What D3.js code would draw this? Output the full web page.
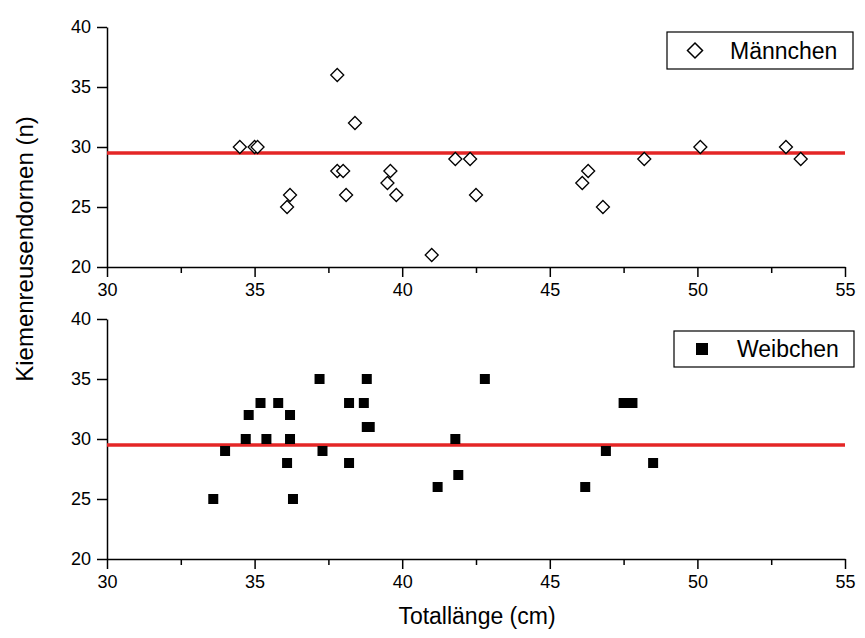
<!DOCTYPE html>
<html>
<head>
<meta charset="utf-8">
<script src="https://cdn.jsdelivr.net/npm/d3@7"></script>
<style>
  body { margin: 0; background: #fff; }
  svg text { font-family: "Liberation Sans", Arial, sans-serif; fill: #000; }
  .axis path, .axis line { stroke: #000; stroke-width: 1.5px; }
</style>
</head>
<body>
<div id="viz-container"></div>
<script>
// Männchen (males): total length (cm) and gill rakers (n)
const maleLength = [34.5, 35.0, 35.1, 36.1, 36.2, 37.8, 37.8, 38.0, 38.1, 38.4, 39.5, 39.6,
                    39.8, 41.0, 41.8, 42.3, 42.5, 46.1, 46.3, 46.8, 48.2, 50.1, 53.0, 53.5];
const maleRakers = [30, 30, 30, 25, 26, 36, 28, 28, 26, 32, 27, 28,
                    26, 21, 29, 29, 26, 27, 28, 25, 29, 30, 30, 29];

// Weibchen (females)
const femaleLength = [37.2, 38.8, 42.8, 35.2, 35.8, 38.2, 38.7, 47.5, 47.8, 34.8, 36.2, 38.8, 38.9, 34.7,
                      35.4, 36.2, 41.8, 34.0, 37.3, 46.9, 36.1, 38.2, 48.5, 41.9, 41.2, 46.2, 33.6, 36.3];
const femaleRakers = [35, 35, 35, 33, 33, 33, 33, 33, 33, 32, 32, 31, 31, 30,
                      30, 30, 30, 29, 29, 29, 28, 28, 28, 27, 26, 26, 25, 25];

const meanRakers = 29.5;

const xTicks = [30, 35, 40, 45, 50, 55];
const xMinorTicks = [32.5, 37.5, 42.5, 47.5, 52.5];
const yTicks = [20, 25, 30, 35, 40];

const W = 865, H = 638;

const svg = d3.select("#viz-container")
    .append("svg")
    .attr("width", W)
    .attr("height", H);

const x = d3.scaleLinear().domain([30, 55]).range([107, 845]);

const panels = [
    { name: "Männchen", xs: maleLength, ys: maleRakers, top: 27, bottom: 267, filled: false,
      legend: { x0: 667, x1: 853, y0: 32, y1: 69, mx: 695, tx: 730, ty: 59 } },
    { name: "Weibchen", xs: femaleLength, ys: femaleRakers, top: 319, bottom: 559, filled: true,
      legend: { x0: 674, x1: 854, y0: 331, y1: 367, mx: 702, tx: 737, ty: 357 } }
];

panels.forEach(p => {
    const y = d3.scaleLinear().domain([20, 40]).range([p.bottom, p.top]);

    // x axis: major + minor ticks
    const gx = svg.append("g")
        .attr("class", "axis")
        .attr("transform", `translate(0,${p.bottom})`)
        .call(d3.axisBottom(x).tickValues(xTicks).tickSize(10).tickSizeOuter(0).tickPadding(6));
    gx.selectAll("text").attr("font-size", "18px");

    svg.append("g")
        .attr("class", "axis")
        .attr("transform", `translate(0,${p.bottom})`)
        .call(d3.axisBottom(x).tickValues(xMinorTicks).tickSize(6).tickSizeOuter(0).tickFormat(""))
        .select("path").remove();

    // y axis
    const gy = svg.append("g")
        .attr("class", "axis")
        .attr("transform", `translate(${x(30)},0)`)
        .call(d3.axisLeft(y).tickValues(yTicks).tickSize(10).tickSizeOuter(0).tickPadding(6));
    gy.selectAll("text").attr("font-size", "18px");

    // mean line
    svg.append("line")
        .attr("x1", x(30)).attr("x2", x(55))
        .attr("y1", y(meanRakers)).attr("y2", y(meanRakers))
        .attr("stroke", "#e42626")
        .attr("stroke-width", 3.5);

    // points
    const pts = p.xs.map((v, i) => ({ x: v, y: p.ys[i] }));
    if (p.filled) {
        svg.selectAll(null)
            .data(pts)
            .enter().append("rect")
            .attr("x", d => x(d.x) - 5)
            .attr("y", d => y(d.y) - 5)
            .attr("width", 10)
            .attr("height", 10)
            .attr("fill", "#000");
    } else {
        svg.selectAll(null)
            .data(pts)
            .enter().append("path")
            .attr("transform", d => `translate(${x(d.x)},${y(d.y)})`)
            .attr("d", "M0,-6.5L6.5,0L0,6.5L-6.5,0Z")
            .attr("fill", "#fff")
            .attr("stroke", "#000")
            .attr("stroke-width", 1.3);
    }

    // legend
    const L = p.legend;
    svg.append("rect")
        .attr("x", L.x0).attr("y", L.y0)
        .attr("width", L.x1 - L.x0).attr("height", L.y1 - L.y0)
        .attr("fill", "#fff")
        .attr("stroke", "#000")
        .attr("stroke-width", 1.2);
    const my = (L.y0 + L.y1) / 2;
    if (p.filled) {
        svg.append("rect")
            .attr("x", L.mx - 6).attr("y", my - 6)
            .attr("width", 12).attr("height", 12)
            .attr("fill", "#000");
    } else {
        svg.append("path")
            .attr("transform", `translate(${L.mx},${my})`)
            .attr("d", "M0,-7.5L7.5,0L0,7.5L-7.5,0Z")
            .attr("fill", "#fff")
            .attr("stroke", "#000")
            .attr("stroke-width", 1.5);
    }
    svg.append("text")
        .attr("x", L.tx).attr("y", L.ty)
        .attr("font-size", "23px")
        .text(p.name);
});

// axis titles
svg.append("text")
    .attr("x", 477)
    .attr("y", 624)
    .attr("text-anchor", "middle")
    .attr("font-size", "23px")
    .text("Totallänge (cm)");

svg.append("text")
    .attr("transform", "translate(33,249) rotate(-90)")
    .attr("text-anchor", "middle")
    .attr("font-size", "24px")
    .text("Kiemenreusendornen (n)");
</script>
</body>
</html>
